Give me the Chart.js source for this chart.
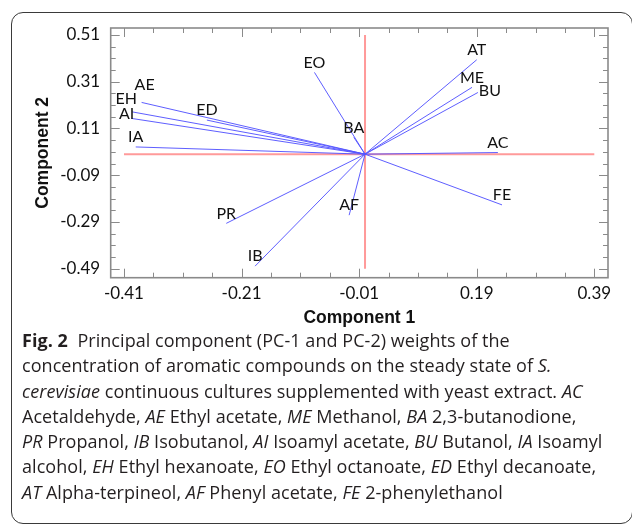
<!DOCTYPE html>
<html lang="en">
<head>
<meta charset="UTF-8">
<title>PCA weights</title>
<script src="https://cdn.jsdelivr.net/npm/chart.js"></script>
<style>
  html, body { margin: 0; padding: 0; background: #fff; }
  body { width: 632px; height: 526px; position: relative; overflow: hidden; }
  #box { position: absolute; left: 11px; top: 12px; width: 622px; height: 512px;
         border: 1.5px solid #3a3a3a; border-radius: 12px; box-sizing: border-box; }
  #chart { position: absolute; left: 0; top: 0; }
  #caption { position: absolute; left: 22px; top: 328px; font-family: "Open Sans", sans-serif;
             font-size: 18px; line-height: 25.3px; color: #231f20; white-space: nowrap; letter-spacing: 0.05px; }
  #caption b { font-weight: 700; }
</style>
</head>
<body>
<div id="box"></div>
<canvas id="chart" width="632" height="330"></canvas>
<div id="caption">
  <div><b>Fig. 2</b>&nbsp; Principal component (PC-1 and PC-2) weights of the</div>
  <div>concentration of aromatic compounds on the steady state of <i>S.</i></div>
  <div><i>cerevisiae</i> continuous cultures supplemented with yeast extract. <i>AC</i></div>
  <div>Acetaldehyde, <i>AE</i> Ethyl acetate, <i>ME</i> Methanol, <i>BA</i> 2,3-butanodione,</div>
  <div><i>PR</i> Propanol, <i>IB</i> Isobutanol, <i>AI</i> Isoamyl acetate, <i>BU</i> Butanol, <i>IA</i> Isoamyl</div>
  <div>alcohol, <i>EH</i> Ethyl hexanoate, <i>EO</i> Ethyl octanoate, <i>ED</i> Ethyl decanoate,</div>
  <div><i>AT</i> Alpha-terpineol, <i>AF</i> Phenyl acetate, <i>FE</i> 2-phenylethanol</div>
</div>
<script>
// compound codes and their weights on PC-1 / PC-2
const compounds = ['AT', 'ME', 'BU', 'AC', 'FE', 'BA', 'AF', 'EO', 'PR', 'IB', 'AE', 'EH', 'AI', 'IA', 'ED'];
const pc1 = [0.190, 0.182, 0.192, 0.226, 0.233, -0.019, -0.027, -0.086, -0.236, -0.187, -0.380, -0.396, -0.397, -0.390, -0.269];
const pc2 = [0.404, 0.286, 0.264, 0.007, -0.217, 0.072, -0.261, 0.350, -0.296, -0.479, 0.2215, 0.181, 0.153, 0.031, 0.146];

const xTicks = [-0.41, -0.21, -0.01, 0.19, 0.39];
const yTicks = [-0.49, -0.29, -0.09, 0.11, 0.31, 0.51];
const xTickLabels = ['-0.41', '-0.21', '-0.01', '0.19', '0.39'];
const yTickLabels = ['-0.49', '-0.29', '-0.09', '0.11', '0.31', '0.51'];

// label nudges (px) where the labels were moved apart in the original
const labelShift = { BU: [12, 8], AE: [3, -8], EH: [-6, -3], AI: [-5, 5] };

const datasets = compounds.map((c, i) => ({
  label: c,
  data: [{ x: 0, y: 0 }, { x: pc1[i], y: pc2[i] }],
  borderColor: 'rgba(85, 85, 255, 0.95)',
  borderWidth: 1,
  pointRadius: 0
}));
// reference axes (drawn under the vectors)
datasets.push({ label: 'h', data: [{ x: -0.41, y: 0 }, { x: 0.39, y: 0 }], borderColor: '#ff9a9a', borderWidth: 2, pointRadius: 0 });
datasets.push({ label: 'v', data: [{ x: 0, y: -0.49 }, { x: 0, y: 0.51 }], borderColor: '#ff9a9a', borderWidth: 2, pointRadius: 0 });

const frameTicks = {
  id: 'frameTicks',
  afterDatasetsDraw(chart) {
    const { ctx, chartArea: a, scales: { x, y } } = chart;
    ctx.save();
    ctx.strokeStyle = '#8a8a8a';
    ctx.lineWidth = 1;
    ctx.beginPath();
    for (let k = 0; k <= 16; k++) {
      const v = -0.41 + k * 0.05;
      const px = Math.round(x.getPixelForValue(v)) + 0.5;
      const len = k % 4 === 0 ? 9 : 5;
      ctx.moveTo(px, a.bottom); ctx.lineTo(px, a.bottom - len);
      ctx.moveTo(px, a.top); ctx.lineTo(px, a.top + len);
    }
    for (let k = 0; k <= 20; k++) {
      const v = -0.49 + k * 0.05;
      const py = Math.round(y.getPixelForValue(v)) + 0.5;
      const len = k % 4 === 0 ? 9 : 5;
      ctx.moveTo(a.left, py); ctx.lineTo(a.left + len, py);
      ctx.moveTo(a.right, py); ctx.lineTo(a.right - len, py);
    }
    ctx.stroke();
    ctx.lineWidth = 1.6;
    ctx.strokeRect(a.left, a.top, a.right - a.left, a.bottom - a.top);

    ctx.fillStyle = '#111';
    ctx.font = '16px Lato';
    ctx.textAlign = 'center';
    ctx.textBaseline = 'middle';
    compounds.forEach((c, i) => {
      const s = labelShift[c] || [0, 0];
      const px = x.getPixelForValue(pc1[i]) + s[0];
      const py = y.getPixelForValue(pc2[i]) - 10 + s[1];
      ctx.fillText(c, px, py);
    });
    ctx.restore();
  }
};

new Chart(document.getElementById('chart'), {
  type: 'line',
  data: { datasets: datasets },
  plugins: [frameTicks],
  options: {
    responsive: false,
    animation: false,
    layout: { padding: { left: 0, top: 28, right: 24, bottom: 0 } },
    plugins: { legend: { display: false }, tooltip: { enabled: false } },
    scales: {
      x: {
        type: 'linear', min: -0.4326, max: 0.4133,
        grid: { display: false, drawTicks: false },
        border: { display: false },
        afterBuildTicks: s => { s.ticks = xTicks.map(v => ({ value: v })); },
        afterFit: s => { s.height = 330 - 277.7; },
        ticks: { padding: 6, color: '#111', font: { family: 'Lato', size: 17 },
                 callback: (v, i) => xTickLabels[i] },
        title: { display: true, text: 'Component 1', color: '#111',
                 font: { family: 'Liberation Sans', size: 17.5, weight: 'bold' },
                 padding: { top: 0, bottom: 1 } }
      },
      y: {
        type: 'linear', min: -0.5286, max: 0.540,
        grid: { display: false, drawTicks: false },
        border: { display: false },
        afterBuildTicks: s => { s.ticks = yTicks.map(v => ({ value: v })); },
        afterFit: s => { s.width = 110.7; },
        ticks: { padding: 10.5, color: '#111', font: { family: 'Lato', size: 17 },
                 callback: (v, i) => yTickLabels[i] },
        title: { display: true, text: 'Component 2', color: '#111',
                 font: { family: 'Liberation Sans', size: 17.5, weight: 'bold' },
                 padding: { top: 33, bottom: 0 } }
      }
    }
  }
});
</script>
</body>
</html>
